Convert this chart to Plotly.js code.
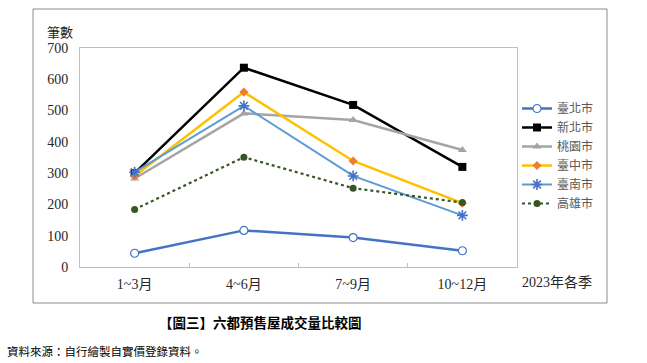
<!DOCTYPE html>
<html><head><meta charset="utf-8">
<script src="https://cdn.plot.ly/plotly-3.0.1.min.js"></script>
<style>html,body{margin:0;padding:0;background:#fff}#c{width:647px;height:363px}</style>
</head><body><div id="c"></div>
<script>
const categories = ["1~3月", "4~6月", "7~9月", "10~12月"];
const seriesNames = ["臺北市", "新北市", "桃園市", "臺中市", "臺南市", "高雄市"];
const taipei    = [44, 117, 94, 52];
const newTaipei = [300, 637, 518, 320];
const taoyuan   = [283, 491, 470, 374];
const taichung  = [291, 559, 339, 204];
const tainan    = [303, 515, 291, 165];
const kaohsiung = [184, 351, 252, 206];
const yTicks = [0, 100, 200, 300, 400, 500, 600, 700];

const serif = "Liberation Serif, Noto Sans CJK TC, serif";
const cjk = "Noto Sans CJK TC, sans-serif";

const traces = [
  {y: taipei, name: seriesNames[0], line:{color:"#4472C4", width:2.5},
   marker:{symbol:"circle", size:8, color:"#ffffff", line:{color:"#4472C4", width:1.2}}},
  {y: newTaipei, name: seriesNames[1], line:{color:"#000000", width:2.5},
   marker:{symbol:"square", size:8, color:"#000000"}},
  {y: taoyuan, name: seriesNames[2], line:{color:"#A5A5A5", width:2.5},
   marker:{symbol:"triangle-up", size:8, color:"#A5A5A5"}},
  {y: taichung, name: seriesNames[3], line:{color:"#FFC000", width:2.5},
   marker:{symbol:"diamond", size:7, color:"#ED7D31"}},
  {y: tainan, name: seriesNames[4], line:{color:"#5B9BD5", width:2},
   marker:{symbol:"asterisk-open", size:9, color:"#4472C4", line:{color:"#4472C4", width:1.6}}},
  {y: kaohsiung, name: seriesNames[5], line:{color:"#375623", width:2.2, dash:"dot"},
   marker:{symbol:"circle", size:7, color:"#375623"}}
].map(t => Object.assign({x: categories, type:"scatter", mode:"lines+markers", cliponaxis:false}, t));

const L = 80, R = 517, T = 48, B = 267;
const px = v => (v - L) / (R - L);
const py = v => (B - v) / (B - T);

const layout = {
  width: 647, height: 363,
  margin: {l: L, r: 647 - R, t: T, b: 363 - B, pad: 0},
  paper_bgcolor: "#ffffff", plot_bgcolor: "#ffffff",
  showlegend: true,
  legend: {x: px(517), y: py(94), xanchor: "left", yanchor: "top",
    font: {family: cjk, size: 12, color: "#595959"}, tracegroupgap: 0,
    itemwidth: 30, bgcolor: "rgba(0,0,0,0)"},
  xaxis: {type: "category", range: [-0.5, 3.5], autorange: false, showgrid: false, zeroline: false,
    showline: true, linecolor: "#BFBFBF", linewidth: 1, mirror: true,
    ticks: "inside", ticklen: 4, tickcolor: "#BFBFBF", tickson: "boundaries",
    ticklabelstandoff: 4,
    tickfont: {family: serif, size: 14, color: "#262626"}, fixedrange: true},
  yaxis: {range: [0, 700], autorange: false, tickvals: yTicks, ticktext: yTicks.map(String),
    showgrid: false, zeroline: false,
    showline: true, linecolor: "#BFBFBF", linewidth: 1, mirror: true, ticks: "",
    ticklabelstandoff: 8,
    tickfont: {family: serif, size: 14, color: "#262626"}, fixedrange: true},
  shapes: [{type: "rect", xref: "paper", yref: "paper",
    x0: px(33), x1: px(607), y0: py(303), y1: py(9),
    line: {color: "#8C8C8C", width: 1}, fillcolor: "rgba(0,0,0,0)", layer: "below"}],
  annotations: [
    {text: "筆數", xref: "paper", yref: "paper", x: px(60), y: py(31),
     xanchor: "center", yanchor: "middle", showarrow: false,
     font: {family: cjk, size: 13, color: "#262626"}},
    {text: "2023年各季", xref: "paper", yref: "paper", x: px(557), y: py(282),
     xanchor: "center", yanchor: "middle", showarrow: false,
     font: {family: serif, size: 14, color: "#262626"}},
    {text: "<b>【圖三】六都預售屋成交量比較圖</b>", xref: "paper", yref: "paper",
     x: px(260), y: py(322), xanchor: "center", yanchor: "middle", showarrow: false,
     font: {family: cjk, size: 13.5, color: "#000000"}},
    {text: "資料來源：自行繪製自實價登錄資料。", xref: "paper", yref: "paper",
     x: px(5), y: py(351), xanchor: "left", yanchor: "middle", showarrow: false,
     font: {family: cjk, size: 11.5, color: "#000000"}}
  ]
};

Plotly.newPlot("c", traces, layout, {displayModeBar: false, staticPlot: true});
</script></body></html>
